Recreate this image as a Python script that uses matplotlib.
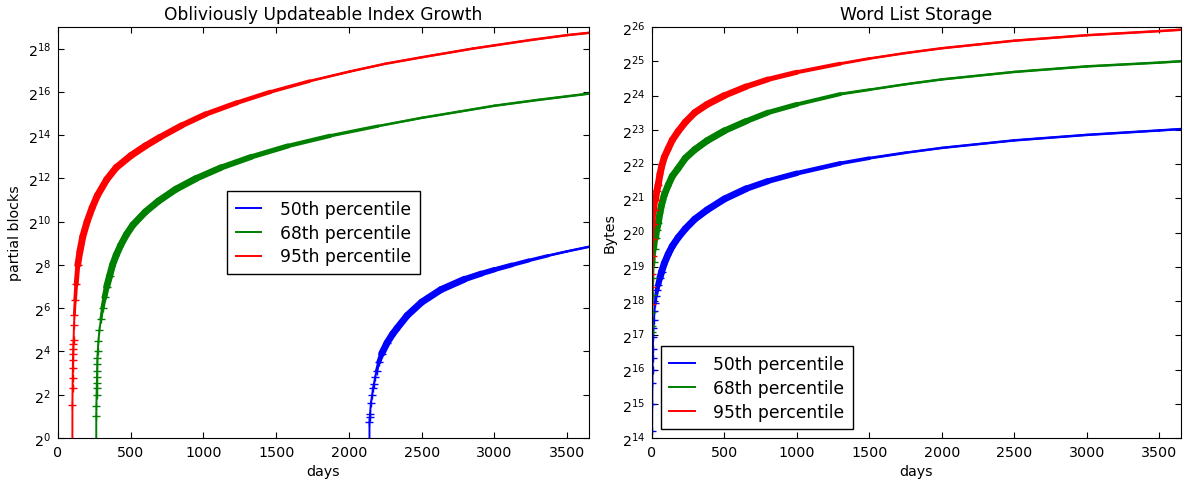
import numpy as np
import matplotlib
matplotlib.use("Agg")
from matplotlib import pyplot as plt
from matplotlib.collections import LineCollection
from matplotlib.ticker import FixedLocator, FuncFormatter, NullLocator

# Obliviously updateable index growth (partial blocks) per day
idx_red_days = [98, 99, 100, 101, 102, 103, 104, 105, 106, 107, 110, 113, 118, 125, 136, 150, 170, 200,
                235, 270, 335, 400, 500, 600, 700, 850, 1015, 1230, 1460, 1730, 2010, 2250, 2500,
                2850, 3000, 3250, 3500, 3650]
idx_red = [0, 2.9, 4.9, 6.8, 9.4, 12.3, 14.9, 17.5, 20.4, 23.4, 37, 52, 84, 137, 256, 388, 630, 1024,
           1606, 2353, 3957, 5793, 8477, 11585, 15287, 22372, 32093, 46341, 65536, 92682, 126500,
           161371, 198668, 262144, 290867, 345901, 404000, 434808]

idx_green_days = [262, 263, 264, 265, 266, 267, 268, 269, 270, 271, 273, 278, 285, 295, 306, 320, 335,
                  355, 375, 400, 430, 470, 515, 600, 690, 810, 950, 1120, 1330, 1580, 1870, 2200,
                  2500, 2750, 3000, 3300, 3650]
idx_green = [0, 2.0, 2.8, 4.0, 4.9, 5.9, 7.0, 8.6, 10.6, 13, 16, 22.6, 32, 45, 64, 91, 128, 181, 256,
             350, 478, 676, 923, 1399, 1978, 2896, 4096, 5793, 8192, 11585, 16040, 21910, 28526,
             34580, 42048, 50700, 61975]

idx_blue_days = [2140, 2141, 2143, 2145, 2150, 2160, 2165, 2172, 2180, 2190, 2205, 2225, 2262, 2300,
                 2331, 2400, 2500, 2632, 2794, 2910, 3000, 3120, 3237, 3370, 3500, 3650]
idx_blue = [0, 1.66, 1.95, 2.14, 3.03, 4, 4.9, 5.7, 7, 8.6, 11.3, 14.9, 21.1, 27.9, 33.8, 50.6, 77.7,
            116, 162, 194, 220, 256, 296, 345, 396, 458]

# Word list storage (bytes) per day
wl_days = [1, 2, 3, 5, 8, 12, 18, 25, 33, 43, 55, 66, 85, 112, 140, 180, 230, 295, 380, 500, 650,
           800, 1000, 1300, 1500, 1750, 2000, 2500, 3000, 3500, 3650]
wl_red = [244600, 345900, 456400, 645600, 913100, 1246000, 1645000, 2026000, 2410000, 2767000,
          3407000, 3968000, 4817000, 5729000, 6813000, 8103000, 9777000, 11860000, 14000000,
          16777216, 20090000, 23240000, 26860000, 31950000, 35450000, 39610000, 43670000,
          50860000, 56820000, 61750000, 63480000]
wl_green = [140500, 159000, 210000, 297000, 420300, 574000, 757000, 933000, 1109000, 1274000,
            1568000, 1828000, 2254000, 2736000, 3276000, 3835000, 4717000, 5611000, 6721000,
            8216000, 9976000, 11880000, 14010000, 17280000, 18860000, 21070000, 23240000,
            27040000, 30240000, 32650000, 33554432]
wl_blue_days = [1, 2, 3, 4, 5, 6, 8, 10, 13, 17, 22, 28, 35, 43, 55, 66, 85, 112, 140, 180, 230, 295,
                380, 500, 650, 800, 1000, 1300, 1500, 1750, 2000, 2500, 3000, 3500, 3650]
wl_blue = [18820, 32768, 49660, 65536, 83490, 99334, 126700, 150500, 179000, 212900, 253200,
           291000, 327000, 365700, 420200, 472900, 561900, 677500, 794700, 944900, 1131000,
           1373000, 1655000, 2068000, 2543000, 2965000, 3477000, 4252000,
           4719000, 5270000, 5810000, 6766000, 7560000, 8273000, 8505000]

labels = ['50th percentile', '68th percentile', '95th percentile']

plt.rcParams['font.family'] = ['DejaVu Sans']
plt.rcParams['font.size'] = 10.25

fig = plt.figure(figsize=(11.84, 4.81), dpi=100)
ax1 = fig.add_axes([58 / 1184, 42 / 481, 531 / 1184, 411 / 481])
ax2 = fig.add_axes([652 / 1184, 42 / 481, 529 / 1184, 411 / 481])


def draw(ax, days, vals, color, label, mark_until, band):
    # band = (start, full, hold, end) in days: where the piled-up '+' marks make the curve look heavy
    days = np.array(days)
    vals = np.array(vals, dtype=float)
    ax.plot(days, vals, color=color, lw=1.4, label=label)
    keep = days >= band[0]
    pts = np.column_stack([days[keep], vals[keep]])
    segs = np.stack([pts[:-1], pts[1:]], axis=1)
    mid = (pts[:-1, 0] + pts[1:, 0]) / 2
    widths = np.interp(mid, band, [1.8, 5.0, 5.0, 1.8])
    ax.add_collection(LineCollection(segs, colors=color, linewidths=widths, capstyle='round',
                                     joinstyle='round'))
    ax.plot(days, vals, color=color, lw=0, marker='+', ms=6, mew=1.0,
            markevery=list(np.where(days <= mark_until)[0]))


draw(ax1, idx_blue_days, idx_blue, 'b', labels[0], 2262, (2190, 2235, 2700, 3450))
draw(ax1, idx_green_days, idx_green, 'g', labels[1], 355, (295, 340, 900, 2300))
draw(ax1, idx_red_days, idx_red, 'r', labels[2], 140, (113, 145, 600, 1900))

draw(ax2, wl_blue_days, wl_blue, 'b', labels[0], 66, (22, 55, 550, 1700))
draw(ax2, wl_days, wl_green, 'g', labels[1], 43, (12, 30, 450, 1500))
draw(ax2, wl_days, wl_red, 'r', labels[2], 43, (12, 30, 450, 1500))

pow2 = FuncFormatter(lambda v, p: r'$\mathdefault{2^{%d}}$' % round(np.log2(v)))

for ax, lo, hi, step in [(ax1, 0, 19, 2), (ax2, 14, 26, 1)]:
    ax.set_yscale('log', base=2, nonpositive='clip')
    ax.set_ylim(2.0 ** lo, 2.0 ** hi)
    ax.yaxis.set_major_locator(FixedLocator([2.0 ** k for k in range(lo, hi + 1, step)]))
    ax.yaxis.set_major_formatter(pow2)
    ax.yaxis.set_minor_locator(NullLocator())
    ax.set_xlim(0, 3650)
    ax.set_xticks(range(0, 3501, 500))
    ax.tick_params(direction='in', top=True, right=True, length=4, pad=5)
    ax.set_xlabel('days')

ax1.set_ylabel('partial blocks')
ax2.set_ylabel('Bytes')
ax1.set_title('Obliviously Updateable Index Growth', fontsize=12.3)
ax2.set_title('Word List Storage', fontsize=12.3)

leg_kw = dict(fontsize=12.3, fancybox=False, edgecolor='black', framealpha=1, handlelength=1.5,
              handletextpad=1.1, labelspacing=0.35, borderpad=0.5)
ax1.legend(loc='center', **leg_kw)
ax2.legend(loc='lower left', **leg_kw)

fig.savefig('out.png', dpi=100)
